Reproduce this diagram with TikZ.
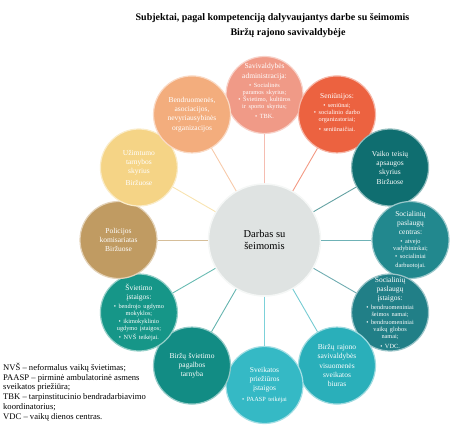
\documentclass[tikz,border=0pt]{standalone}
\usepackage{fontspec}
\setmainfont{Liberation Serif}
\usepackage{tikz}
\definecolor{admcol}{HTML}{F09A87}
\definecolor{sencol}{HTML}{EC6240}
\definecolor{vtacol}{HTML}{0F6E70}
\definecolor{spccol}{HTML}{22888E}
\definecolor{spicol}{HTML}{217F87}
\definecolor{vsbcol}{HTML}{2AAFBA}
\definecolor{spqcol}{HTML}{35B9C5}
\definecolor{sptcol}{HTML}{128C84}
\definecolor{svicol}{HTML}{169688}
\definecolor{polcol}{HTML}{C09B62}
\definecolor{uztcol}{HTML}{F5D486}
\definecolor{bndcol}{HTML}{F3AD7D}
\definecolor{centrcol}{HTML}{DFE3E2}
\newcommand{\punktas}{\textbullet~}
\newcommand{\smulkiai}{\par\vspace{1.5pt}\fontsize{6.3}{7.3}\selectfont}

\begin{document}
\begin{tikzpicture}[x=1pt, y=1pt,
	ratas/.style={circle, minimum size=77pt, inner sep=0pt, fill=#1, draw=#1!45!white, line width=1.2pt},
	tekstas/.style={align=center, text width=64pt, inner sep=0pt, text=white, font=\fontsize{7.5}{9.3}\selectfont},
	jungtis/.style={draw=#1!65!white, line width=0.9pt}]
	\useasboundingbox (0,0) rectangle (474,429);
	% antraste
	\node[font=\fontsize{10}{12}\selectfont\bfseries] (antr1) at (272.5,411) {Subjektai, pagal kompetenciją dalyvaujantys darbe su šeimomis};
	\node[font=\fontsize{10}{12}\selectfont\bfseries] (antr2) at (288,396) {Biržų rajono savivaldybėje};
	% centras ir aplinkiniai ratai
	\coordinate (o) at (264.5,189);
	\node[circle, minimum size=112pt, inner sep=0pt, fill=centrcol, draw=white!70!centrcol, line width=1.5pt] (c) at (o) {};
	\node[align=center, inner sep=0pt, font=\fontsize{10.5}{11.5}\selectfont] (c-t) at (c) {Darbas su\\šeimomis};
	\node[ratas=admcol] (adm) at ([shift={(90:145)}]o) {};
	\node[ratas=sencol] (sen) at ([shift={(60:145)}]o) {};
	\node[ratas=vtacol] (vta) at ([shift={(30:145)}]o) {};
	\node[ratas=spccol] (spc) at ([shift={(0:146)}]o) {};
	\node[ratas=spicol] (spi) at ([shift={(-30:145)}]o) {};
	\node[ratas=vsbcol] (vsb) at ([shift={(-60:145)}]o) {};
	\node[ratas=spqcol] (spq) at ([shift={(-90:145)}]o) {};
	\node[ratas=sptcol] (spt) at ([shift={(-120:145)}]o) {};
	\node[ratas=svicol] (svi) at ([shift={(-150:145)}]o) {};
	\node[ratas=polcol] (pol) at ([shift={(180:146)}]o) {};
	\node[ratas=uztcol] (uzt) at ([shift={(150:145)}]o) {};
	\node[ratas=bndcol] (bnd) at ([shift={(120:145)}]o) {};
	% jungtys
	\path (c) edge[jungtis=admcol] (adm)
		edge[jungtis=sencol] (sen)
		edge[jungtis=vtacol] (vta)
		edge[jungtis=spccol] (spc)
		edge[jungtis=spicol] (spi)
		edge[jungtis=vsbcol] (vsb)
		edge[jungtis=spqcol] (spq)
		edge[jungtis=sptcol] (spt)
		edge[jungtis=svicol] (svi)
		edge[jungtis=polcol] (pol)
		edge[jungtis=uztcol] (uzt)
		edge[jungtis=bndcol] (bnd);
	% tekstai
	\node[tekstas] (adm-t) at ([yshift=4pt]adm) {Savivaldybės\\administracija:\smulkiai
		\punktas Socialinės\\paramos skyrius;\\\punktas Švietimo, kultūros\\ir sporto skyrius;\\\punktas TBK.};
	\node[tekstas] (sen-t) at ([yshift=2pt]sen) {Seniūnijos:\smulkiai
		\punktas seniūnai;\\\punktas socialinio darbo\\organizatoriai;\\\punktas seniūnaičiai.};
	\node[tekstas] (vta-t) at (vta) {Vaiko teisių\\apsaugos\\skyrius\\Biržuose};
	\node[tekstas] (spc-t) at (spc) {Socialinių\\paslaugų\\centras:\smulkiai
		\punktas atvejo\\vadybininkai;\\\punktas socialiniai\\darbuotojai.};
	\node[tekstas] (spi-t) at (spi) {Socialinių\\paslaugų\\įstaigos:\smulkiai
		\punktas bendruomeniniai\\šeimos namai;\\\punktas bendruomeniniai\\vaikų globos\\namai;\\\punktas VDC.};
	\node[tekstas] (vsb-t) at (vsb) {Biržų rajono\\savivaldybės\\visuomenės\\sveikatos\\biuras};
	\node[tekstas] (spq-t) at (spq) {Sveikatos\\priežiūros\\įstaigos\smulkiai
		\punktas PAASP teikėjai};
	\node[tekstas] (spt-t) at (spt) {Biržų švietimo\\pagalbos\\tarnyba};
	\node[tekstas] (svi-t) at (svi) {Švietimo\\įstaigos:\smulkiai
		\punktas bendrojo ugdymo\\mokyklos;\\\punktas ikimokyklinio\\ugdymo įstaigos;\\\punktas NVŠ teikėjai.};
	\node[tekstas] (pol-t) at (pol) {Policijos\\komisariatas\\Biržuose};
	\node[tekstas] (uzt-t) at (uzt) {Užimtumo\\tarnybos\\skyrius\\[2pt]Biržuose};
	\node[tekstas] (bnd-t) at (bnd) {Bendruomenės,\\asociacijos,\\nevyriausybinės\\organizacijos};
	% santrumpos
	\node[anchor=north west, align=left, inner sep=0pt, font=\fontsize{8.6}{9.7}\selectfont] (legenda) at (3,66)
		{NVŠ – neformalus vaikų švietimas;\\PAASP – pirminė ambulatorinė asmens\\sveikatos priežiūra;\\TBK – tarpinstitucinio bendradarbiavimo\\koordinatorius;\\VDC – vaikų dienos centras.};
\end{tikzpicture}
\end{document}
